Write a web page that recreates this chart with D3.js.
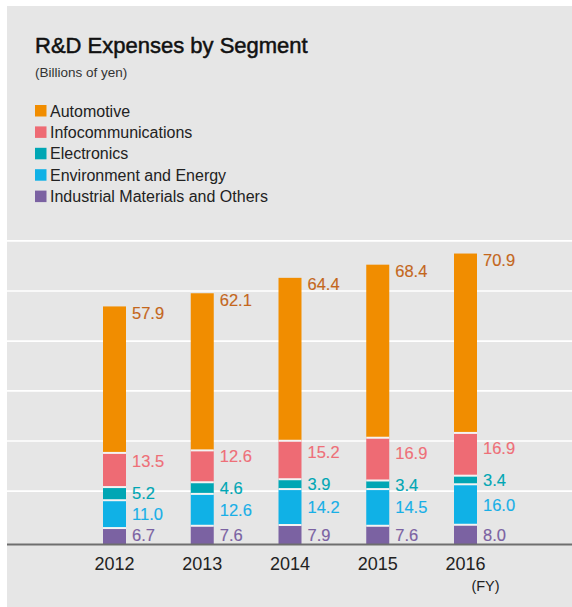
<!DOCTYPE html>
<html><head><meta charset="utf-8">
<script src="https://cdn.jsdelivr.net/npm/d3@7"></script>
<style>html,body{margin:0;padding:0;background:#fff;} svg{display:block;font-family:"Liberation Sans",Arial,Helvetica,sans-serif;}</style>
</head><body><svg id="chart" width="572" height="607"></svg>
<script>
// ---- data ----
const years = ["2012", "2013", "2014", "2015", "2016"];
const segmentKeys = ["Industrial Materials and Others", "Environment and Energy", "Electronics", "Infocommunications", "Automotive"];
const industrial = [6.7, 7.6, 7.9, 7.6, 8.0];
const environment = [11.0, 12.6, 14.2, 14.5, 16.0];
const electronics = [5.2, 4.6, 3.9, 3.4, 3.4];
const infocom = [13.5, 12.6, 15.2, 16.9, 16.9];
const automotive = [57.9, 62.1, 64.4, 68.4, 70.9];
const gridValues = [21.3, 41.1, 60.9, 80.6, 100.4, 120.2];
const legendOrder = ["Automotive", "Infocommunications", "Electronics", "Environment and Energy", "Industrial Materials and Others"];

const fills = {
  "Automotive": "#f18d00",
  "Infocommunications": "#ee6b74",
  "Electronics": "#00a6b4",
  "Environment and Energy": "#10b1e6",
  "Industrial Materials and Others": "#7b62a2"
};
const labelColors = {
  "Automotive": "#c4661c",
  "Infocommunications": "#ee6f78",
  "Electronics": "#00a6b4",
  "Environment and Energy": "#18afe6",
  "Industrial Materials and Others": "#7b62a2"
};

const rows = years.map((yr, i) => ({
  year: yr,
  "Industrial Materials and Others": industrial[i],
  "Environment and Energy": environment[i],
  "Electronics": electronics[i],
  "Infocommunications": infocom[i],
  "Automotive": automotive[i]
}));

const svg = d3.select("#chart");
const W = 572, H = 607;

// panel
svg.append("rect").attr("x", 7).attr("y", 6).attr("width", W - 7).attr("height", H - 6).attr("fill", "#e6e6e6");

const y = d3.scaleLinear().domain([0, 120]).range([545, 545 - 120 * 2.53]);
const x = d3.scalePoint().domain(years).range([114.5, 465.5]);
const barW = 23;

// gridlines
svg.append("g").selectAll("line").data(gridValues).join("line")
  .attr("x1", 7).attr("x2", W)
  .attr("y1", d => y(d)).attr("y2", d => y(d))
  .attr("stroke", "#ffffff").attr("stroke-width", 1.6);

// bars
const series = d3.stack().keys(segmentKeys)(rows);
const gBars = svg.append("g");
series.forEach((s, si) => {
  gBars.append("g").selectAll("rect").data(s).join("rect")
    .attr("x", d => x(d.data.year) - barW / 2)
    .attr("width", barW)
    .attr("y", d => y(d[1]))
    .attr("height", d => y(d[0]) - y(d[1]))
    .attr("fill", fills[s.key]);
});
// separators between segments
series.forEach((s, si) => {
  if (si === 0) return;
  gBars.append("g").selectAll("line").data(s).join("line")
    .attr("x1", d => x(d.data.year) - barW / 2)
    .attr("x2", d => x(d.data.year) + barW / 2)
    .attr("y1", d => y(d[0])).attr("y2", d => y(d[0]))
    .attr("stroke", "#f3f3f3").attr("stroke-width", 2);
});

// axis baseline
svg.append("line").attr("x1", 7).attr("x2", W).attr("y1", 544.5).attr("y2", 544.5)
  .attr("stroke", "#6e6e6e").attr("stroke-width", 2);

// value labels
const gLab = svg.append("g").attr("font-size", 16.5);
years.forEach((yr, i) => {
  const segs = series.map(s => s[i]);
  const mid = d => (y(d[0]) + y(d[1])) / 2 + 6;
  const base = [];
  base[0] = Math.min(mid(segs[0]), 541);
  base[1] = mid(segs[1]);
  base[2] = Math.min(mid(segs[2]), base[1] - 21);
  base[3] = Math.min(mid(segs[3]), base[2] - 32);
  base[4] = y(segs[4][1]) + 12.5;
  series.forEach((s, si) => {
    gLab.append("text")
      .attr("x", x(yr) + barW / 2 + 6)
      .attr("y", base[si])
      .attr("fill", labelColors[s.key])
      .attr("stroke", labelColors[s.key]).attr("stroke-width", 0.15)
      .text(d3.format(".1f")(s[i][1] - s[i][0]));
  });
});

// year labels
svg.append("g").selectAll("text").data(years).join("text")
  .attr("x", d => x(d)).attr("y", 570)
  .attr("text-anchor", "middle").attr("font-size", 18).attr("fill", "#222")
  .text(d => d);
svg.append("text").attr("x", 485.5).attr("y", 590.5).attr("text-anchor", "middle")
  .attr("font-size", 14.5).attr("fill", "#222").text("(FY)");

// title
svg.append("text").attr("x", 35).attr("y", 53).attr("font-size", 22).attr("fill", "#111")
  .attr("stroke", "#111").attr("stroke-width", 0.5).text("R&D Expenses by Segment");
svg.append("text").attr("x", 35).attr("y", 77).attr("font-size", 13.5).attr("fill", "#333")
  .text("(Billions of yen)");

// legend
const lg = svg.append("g").selectAll("g").data(legendOrder).join("g")
  .attr("transform", (d, i) => `translate(35,${105 + i * 21.4})`);
lg.append("rect").attr("width", 11.5).attr("height", 11.5).attr("fill", d => fills[d]);
lg.append("text").attr("x", 15).attr("y", 11.5).attr("font-size", 16).attr("fill", "#222").text(d => d);
</script></body></html>
